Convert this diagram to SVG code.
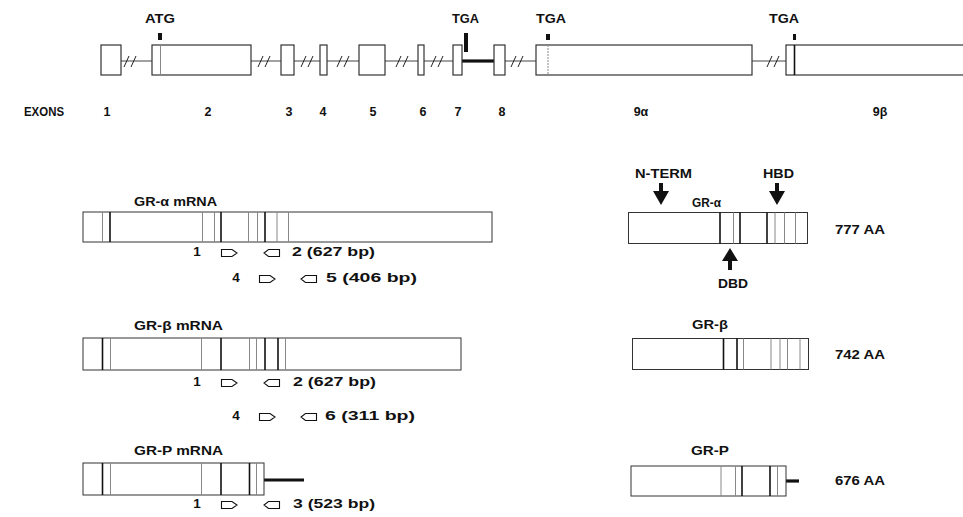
<svg xmlns="http://www.w3.org/2000/svg" width="963" height="517" viewBox="0 0 963 517">
<defs>
<style>
.t{font-family:"Liberation Sans",Arial,sans-serif;font-weight:bold;font-size:12.5px;fill:#111}
.p{font-size:13.5px}
.box{fill:#fff;stroke:#333;stroke-width:1}
.ex{fill:#fff;stroke:#333;stroke-width:1.2}
.d{stroke:#111;stroke-width:1.6}
.l{stroke:#888;stroke-width:1}
.intr{stroke:#444;stroke-width:1;fill:none}
.sl{stroke:#222;stroke-width:1;fill:none}
.thick{stroke:#111;stroke-width:3.2;fill:none}
.tick{fill:#111}
.pr{fill:#fff;stroke:#111;stroke-width:1.1}
</style>
</defs>
<rect width="963" height="517" fill="#fff"/>

<g id="connectors">
  <line class="intr" x1="121" y1="61" x2="152" y2="61"/>
  <line class="intr" x1="251" y1="61" x2="281" y2="61"/>
  <line class="intr" x1="294" y1="61" x2="320" y2="61"/>
  <line class="intr" x1="327" y1="61" x2="359" y2="61"/>
  <line class="intr" x1="385" y1="61" x2="418" y2="61"/>
  <line class="intr" x1="424" y1="61" x2="453" y2="61"/>
  <line class="thick" x1="462" y1="61" x2="494" y2="61"/>
  <line class="intr" x1="505" y1="61" x2="536" y2="61"/>
  <line class="intr" x1="752" y1="61" x2="786" y2="61"/>
  <path class="sl" d="M124,67 l5,-11 M131,67 l5,-11"/>
  <path class="sl" d="M258,67 l5,-11 M265,67 l5,-11"/>
  <path class="sl" d="M301,67 l5,-11 M308,67 l5,-11"/>
  <path class="sl" d="M337,67 l5,-11 M344,67 l5,-11"/>
  <path class="sl" d="M396,67 l5,-11 M403,67 l5,-11"/>
  <path class="sl" d="M431,67 l5,-11 M438,67 l5,-11"/>
  <path class="sl" d="M511,67 l5,-11 M518,67 l5,-11"/>
  <path class="sl" d="M767,67 l5,-11 M774,67 l5,-11"/>
  <path class="tick" d="M659,183 h4 v8 h6 l-8,14 l-8,-14 h6 z"/>
  <path class="tick" d="M775,183 h4 v8 h6 l-8,14 l-8,-14 h6 z"/>
  <path class="tick" d="M728,270 h4 v-9 h6 l-8,-13 l-8,13 h6 z"/>
  <line class="thick" x1="264" y1="480" x2="304" y2="480"/>
  <line class="thick" x1="786" y1="481" x2="799" y2="481"/>
</g>

<g id="genomic">
  <text class="t" x="145" y="23" textLength="30" lengthAdjust="spacingAndGlyphs">ATG</text>
  <text class="t" x="452" y="23" textLength="27" lengthAdjust="spacingAndGlyphs">TGA</text>
  <text class="t" x="536" y="23" textLength="30" lengthAdjust="spacingAndGlyphs">TGA</text>
  <text class="t" x="769" y="23" textLength="30" lengthAdjust="spacingAndGlyphs">TGA</text>
  <g id="exon1"><rect class="ex" x="101" y="45" width="20" height="30"/></g>
  <g id="exon2"><rect class="ex" x="152" y="45" width="99" height="30"/><line class="l" x1="160.5" y1="45" x2="160.5" y2="75"/><rect class="tick" x="158" y="33" width="4" height="7"/></g>
  <g id="exon3"><rect class="ex" x="281" y="45" width="13" height="30"/></g>
  <g id="exon4"><rect class="ex" x="320" y="45" width="7" height="30"/></g>
  <g id="exon5"><rect class="ex" x="359" y="45" width="26" height="30"/></g>
  <g id="exon6"><rect class="ex" x="418" y="45" width="6" height="30"/></g>
  <g id="exon7"><rect class="ex" x="453" y="45" width="9" height="30"/><rect class="tick" x="464" y="33" width="4" height="19"/></g>
  <g id="exon8"><rect class="ex" x="494" y="45" width="11" height="30"/></g>
  <g id="exon9a"><rect class="ex" x="536" y="45" width="216" height="30"/><line class="l" x1="548" y1="45" x2="548" y2="75" stroke-dasharray="2,1"/><rect class="tick" x="546" y="34" width="4" height="6"/></g>
  <g id="exon9b"><rect class="ex" x="786" y="45" width="200" height="30"/><line class="d" x1="794.5" y1="45" x2="794.5" y2="75"/><rect class="tick" x="793" y="34" width="3" height="6"/></g>
  <text class="t" x="24" y="116" textLength="40" lengthAdjust="spacingAndGlyphs">EXONS</text>
  <g text-anchor="middle">
    <text class="t" x="107" y="116">1</text>
    <text class="t" x="208" y="116">2</text>
    <text class="t" x="289" y="116">3</text>
    <text class="t" x="323" y="116">4</text>
    <text class="t" x="373" y="116">5</text>
    <text class="t" x="423" y="116">6</text>
    <text class="t" x="458" y="116">7</text>
    <text class="t" x="502" y="116">8</text>
    <text class="t" x="641" y="116">9α</text>
    <text class="t" x="880" y="116">9β</text>
  </g>
</g>

<g id="gr-alpha-mrna">
  <text class="t" x="134" y="206" textLength="83" lengthAdjust="spacingAndGlyphs">GR-α mRNA</text>
  <rect class="box" x="83" y="212" width="409" height="30"/>
  <line class="l" x1="102.5" y1="212" x2="102.5" y2="242"/>
  <line class="d" x1="110" y1="212" x2="110" y2="242"/>
  <line class="l" x1="202.5" y1="212" x2="202.5" y2="242"/>
  <line class="l" x1="214.5" y1="212" x2="214.5" y2="242"/>
  <line class="d" x1="221" y1="212" x2="221" y2="242"/>
  <line class="l" x1="248.5" y1="212" x2="248.5" y2="242"/>
  <line class="l" x1="257.5" y1="212" x2="257.5" y2="242"/>
  <line class="d" x1="265" y1="212" x2="265" y2="242"/>
  <line class="l" x1="277" y1="212" x2="277" y2="242"/>
  <line class="l" x1="288.5" y1="212" x2="288.5" y2="242"/>
  <text class="t p" x="197" y="256" text-anchor="middle">1</text>
  <path class="pr" d="M221.5,249.5 h10.5 l5,3.5 l-5,3.5 h-10.5 z"/>
  <path class="pr" d="M279.5,249.5 h-11 l-4.5,3.5 l4.5,3.5 h11 z"/>
  <text class="t p" x="292" y="256" textLength="83" lengthAdjust="spacingAndGlyphs">2 (627 bp)</text>
  <text class="t p" x="236" y="282" text-anchor="middle">4</text>
  <path class="pr" d="M259.5,275.5 h10.5 l5,3.5 l-5,3.5 h-10.5 z"/>
  <path class="pr" d="M316.5,275.5 h-11 l-4.5,3.5 l4.5,3.5 h11 z"/>
  <text class="t p" x="326" y="282" textLength="91" lengthAdjust="spacingAndGlyphs">5 (406 bp)</text>
</g>

<g id="gr-beta-mrna">
  <text class="t" x="134" y="330" textLength="89" lengthAdjust="spacingAndGlyphs">GR-β mRNA</text>
  <rect class="box" x="83" y="338" width="378" height="32"/>
  <line class="d" x1="102.5" y1="338" x2="102.5" y2="370"/>
  <line class="l" x1="110.5" y1="338" x2="110.5" y2="370"/>
  <line class="l" x1="201.5" y1="338" x2="201.5" y2="370"/>
  <line class="d" x1="221" y1="338" x2="221" y2="370"/>
  <line class="l" x1="249.5" y1="338" x2="249.5" y2="370"/>
  <line class="l" x1="256.5" y1="338" x2="256.5" y2="370"/>
  <line class="d" x1="265" y1="338" x2="265" y2="370"/>
  <line class="d" x1="278" y1="338" x2="278" y2="370"/>
  <line class="l" x1="285.5" y1="338" x2="285.5" y2="370"/>
  <text class="t p" x="197" y="386" text-anchor="middle">1</text>
  <path class="pr" d="M221.5,379.5 h10.5 l5,3.5 l-5,3.5 h-10.5 z"/>
  <path class="pr" d="M279.5,379.5 h-11 l-4.5,3.5 l4.5,3.5 h11 z"/>
  <text class="t p" x="293" y="386" textLength="83" lengthAdjust="spacingAndGlyphs">2 (627 bp)</text>
  <text class="t p" x="236" y="420" text-anchor="middle">4</text>
  <path class="pr" d="M259.5,413.5 h10.5 l5,3.5 l-5,3.5 h-10.5 z"/>
  <path class="pr" d="M316.5,413.5 h-11 l-4.5,3.5 l4.5,3.5 h11 z"/>
  <text class="t p" x="325" y="420" textLength="90" lengthAdjust="spacingAndGlyphs">6 (311 bp)</text>
</g>

<g id="gr-p-mrna">
  <text class="t" x="134" y="455" textLength="89" lengthAdjust="spacingAndGlyphs">GR-P mRNA</text>
  <rect class="box" x="83" y="463" width="181" height="32"/>
  <line class="d" x1="102.5" y1="463" x2="102.5" y2="495"/>
  <line class="l" x1="110.5" y1="463" x2="110.5" y2="495"/>
  <line class="l" x1="201.5" y1="463" x2="201.5" y2="495"/>
  <line class="d" x1="221" y1="463" x2="221" y2="495"/>
  <line class="d" x1="249.5" y1="463" x2="249.5" y2="495"/>
  <line class="l" x1="256.5" y1="463" x2="256.5" y2="495"/>
  <text class="t p" x="197" y="508" text-anchor="middle">1</text>
  <path class="pr" d="M221.5,501.5 h10.5 l5,3.5 l-5,3.5 h-10.5 z"/>
  <path class="pr" d="M279.5,501.5 h-11 l-4.5,3.5 l4.5,3.5 h11 z"/>
  <text class="t p" x="293" y="508" textLength="82" lengthAdjust="spacingAndGlyphs">3 (523 bp)</text>
</g>

<g id="gr-alpha-protein">
  <text class="t" x="635" y="178" textLength="57" lengthAdjust="spacingAndGlyphs">N-TERM</text>
  <text class="t" x="763" y="178" textLength="31" lengthAdjust="spacingAndGlyphs">HBD</text>
  <text class="t" x="692" y="207" textLength="29" lengthAdjust="spacingAndGlyphs">GR-α</text>
  <rect class="box" x="628.5" y="212.5" width="179" height="31"/>
  <line class="d" x1="720" y1="212.5" x2="720" y2="243.5"/>
  <line class="l" x1="733.5" y1="212.5" x2="733.5" y2="243.5"/>
  <line class="d" x1="740" y1="212.5" x2="740" y2="243.5"/>
  <line class="d" x1="767" y1="212.5" x2="767" y2="243.5"/>
  <line class="l" x1="775" y1="212.5" x2="775" y2="243.5"/>
  <line class="l" x1="784.5" y1="212.5" x2="784.5" y2="243.5"/>
  <line class="l" x1="795.5" y1="212.5" x2="795.5" y2="243.5"/>
  <text class="t" x="718" y="288" textLength="30" lengthAdjust="spacingAndGlyphs">DBD</text>
  <text class="t" x="835" y="234" textLength="50" lengthAdjust="spacingAndGlyphs">777 AA</text>
</g>

<g id="gr-beta-protein">
  <text class="t" x="692" y="329" textLength="36" lengthAdjust="spacingAndGlyphs">GR-β</text>
  <rect class="box" x="632.5" y="338.5" width="176" height="31"/>
  <line class="d" x1="723.5" y1="338.5" x2="723.5" y2="369.5"/>
  <line class="d" x1="737" y1="338.5" x2="737" y2="369.5"/>
  <line class="l" x1="743.5" y1="338.5" x2="743.5" y2="369.5"/>
  <line class="l" x1="771" y1="338.5" x2="771" y2="369.5"/>
  <line class="l" x1="780" y1="338.5" x2="780" y2="369.5"/>
  <line class="l" x1="787.5" y1="338.5" x2="787.5" y2="369.5"/>
  <line class="l" x1="800" y1="338.5" x2="800" y2="369.5"/>
  <text class="t" x="835" y="359" textLength="50" lengthAdjust="spacingAndGlyphs">742 AA</text>
</g>

<g id="gr-p-protein">
  <text class="t" x="691" y="455" textLength="38" lengthAdjust="spacingAndGlyphs">GR-P</text>
  <rect class="box" x="631" y="466" width="155" height="30"/>
  <line class="l" x1="721" y1="466" x2="721" y2="496"/>
  <line class="l" x1="735.5" y1="466" x2="735.5" y2="496"/>
  <line class="d" x1="742" y1="466" x2="742" y2="496"/>
  <line class="d" x1="770" y1="466" x2="770" y2="496"/>
  <line class="l" x1="777.5" y1="466" x2="777.5" y2="496"/>
  <text class="t" x="835" y="485" textLength="50" lengthAdjust="spacingAndGlyphs">676 AA</text>
</g>
</svg>
